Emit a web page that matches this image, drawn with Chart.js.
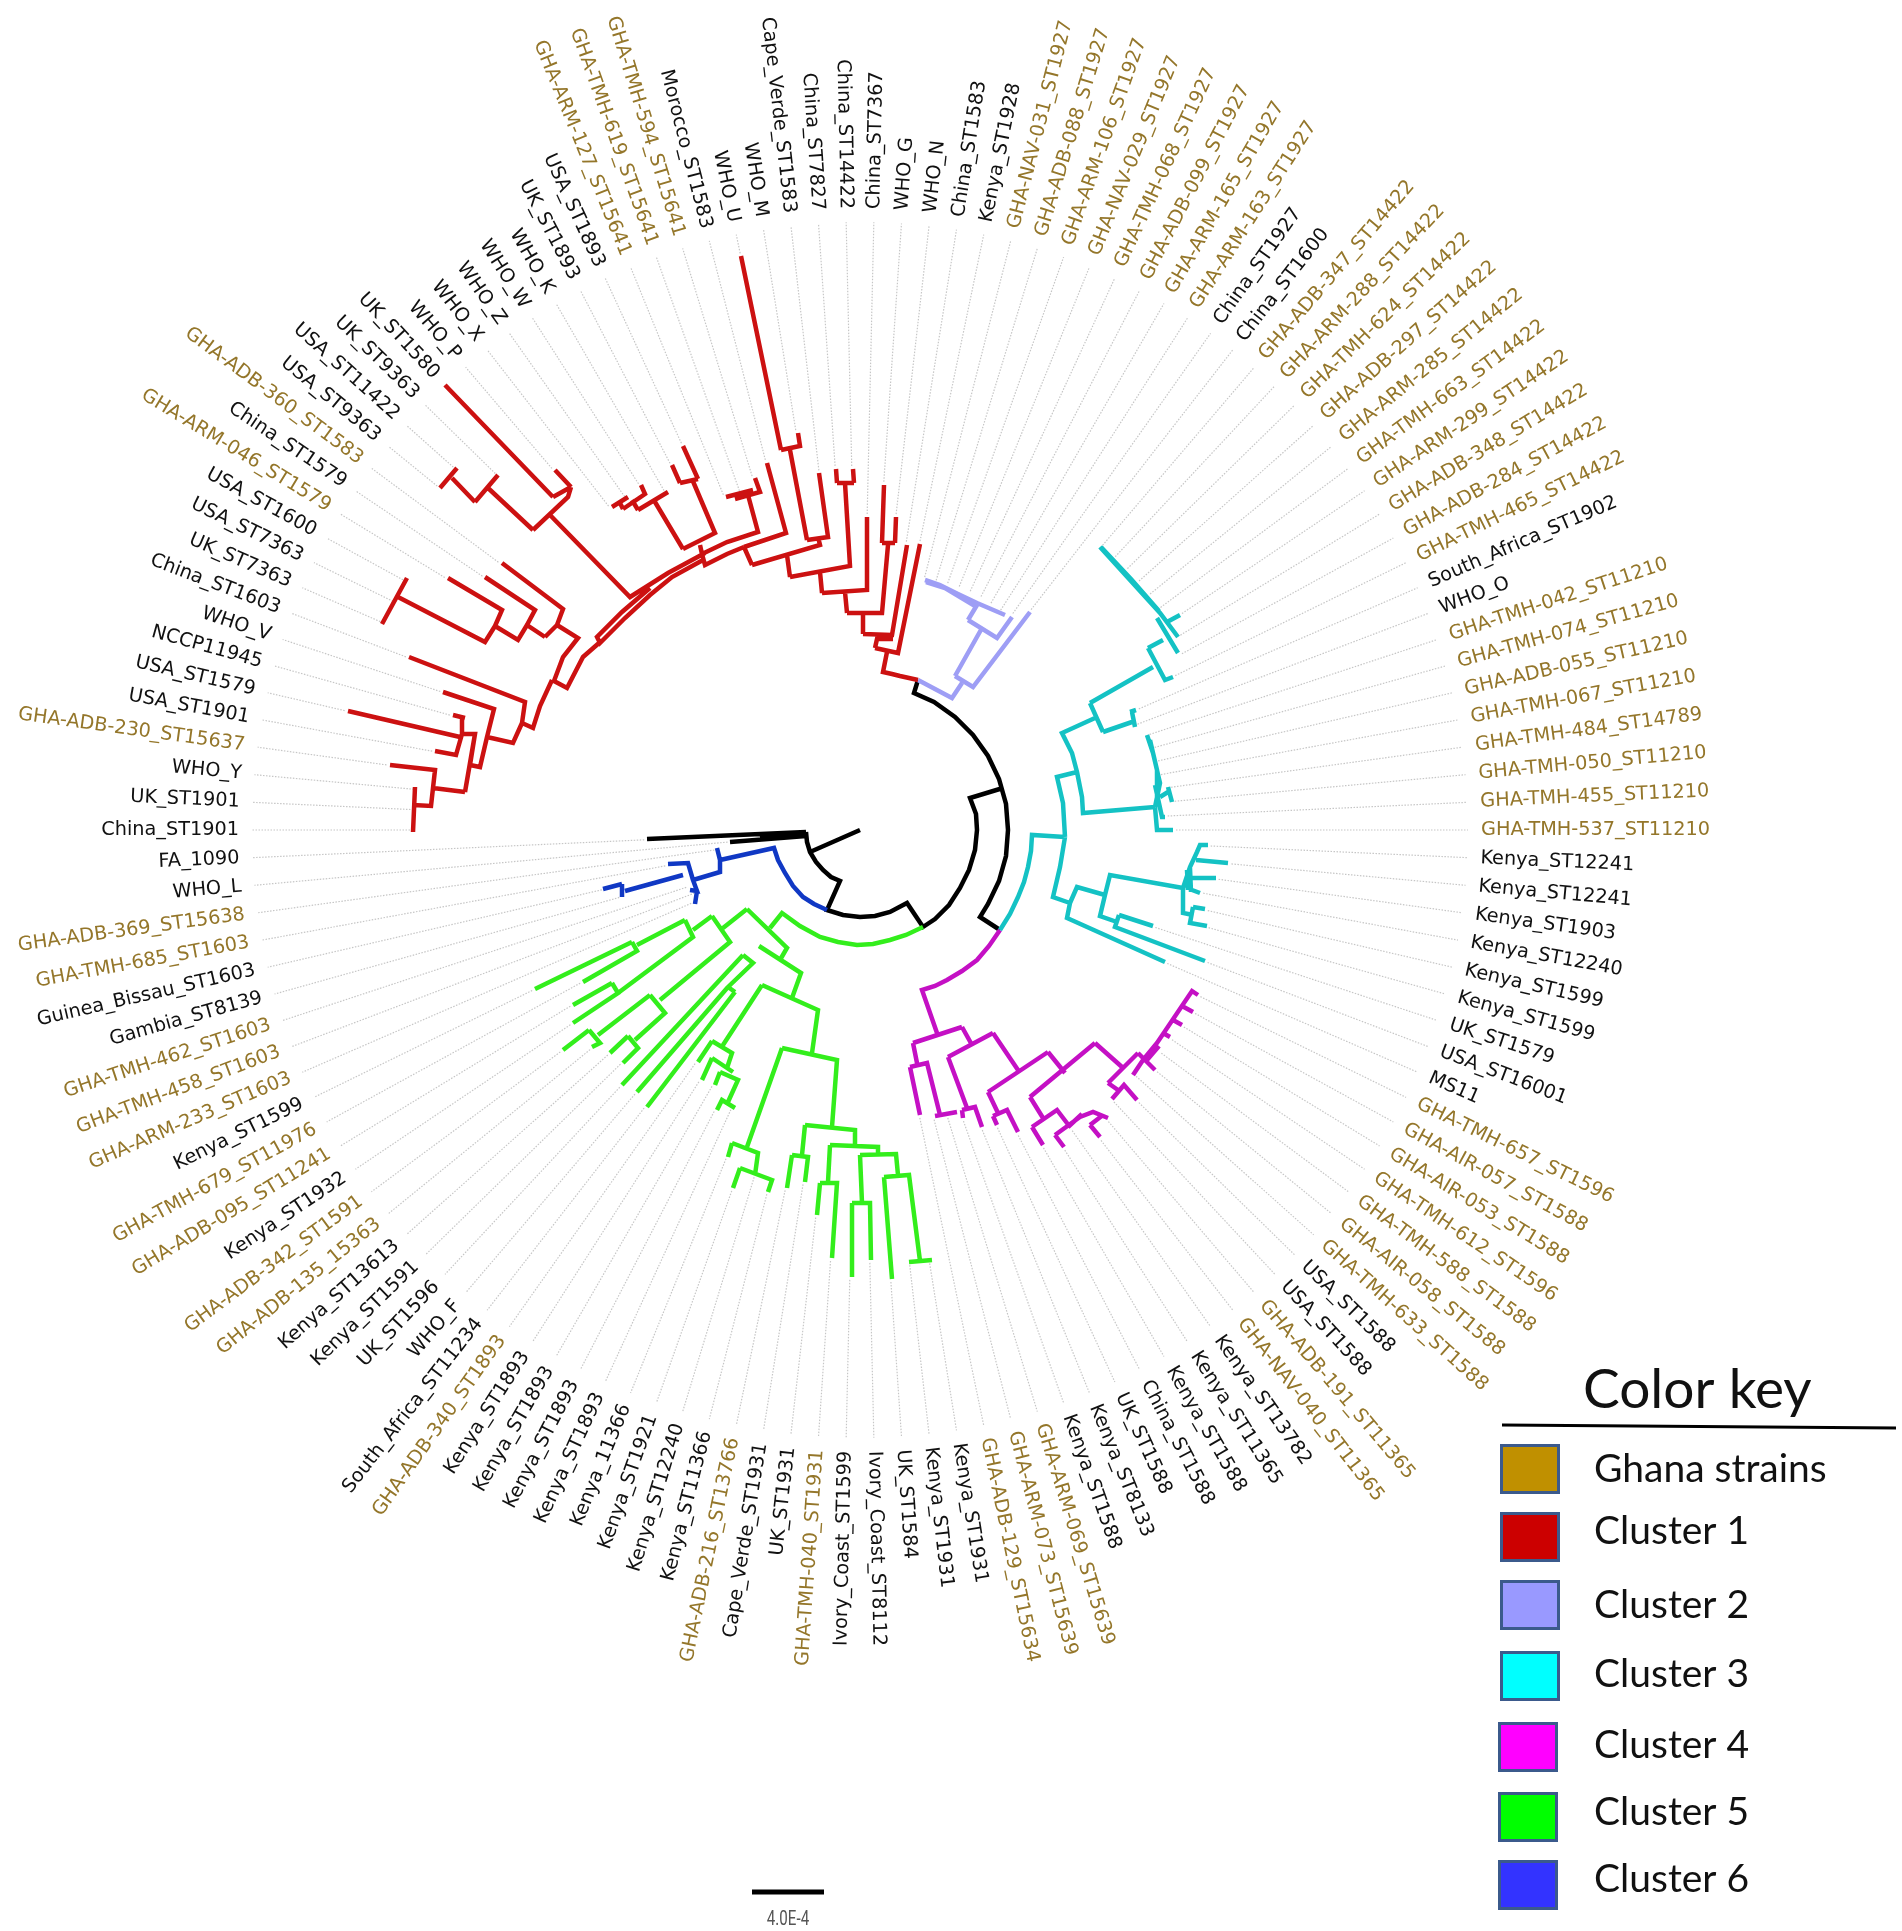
<!DOCTYPE html>
<html><head><meta charset="utf-8">
<style>html,body{margin:0;padding:0;background:#fff}canvas{display:block}</style>
<script src="https://cdn.jsdelivr.net/npm/chart.js@4"></script>
</head><body><canvas id="c" width="1902" height="1931"></canvas>
<script>
const tipLabels=["FA_1090","China_ST1901","UK_ST1901","WHO_Y","GHA-ADB-230_ST15637","USA_ST1901","USA_ST1579","NCCP11945","WHO_V","China_ST1603","UK_ST7363","USA_ST7363","USA_ST1600","GHA-ARM-046_ST1579","China_ST1579","GHA-ADB-360_ST1583","USA_ST9363","USA_ST11422","UK_ST9363","UK_ST1580","WHO_P","WHO_X","WHO_Z","WHO_W","WHO_K","UK_ST1893","USA_ST1893","GHA-ARM-127_ST15641","GHA-TMH-619_ST15641","GHA-TMH-594_ST15641","Morocco_ST1583","WHO_U","WHO_M","Cape_Verde_ST1583","China_ST7827","China_ST14422","China_ST7367","WHO_G","WHO_N","China_ST1583","Kenya_ST1928","GHA-NAV-031_ST1927","GHA-ADB-088_ST1927","GHA-ARM-106_ST1927","GHA-NAV-029_ST1927","GHA-TMH-068_ST1927","GHA-ADB-099_ST1927","GHA-ARM-165_ST1927","GHA-ARM-163_ST1927","China_ST1927","China_ST1600","GHA-ADB-347_ST14422","GHA-ARM-288_ST14422","GHA-TMH-624_ST14422","GHA-ADB-297_ST14422","GHA-ARM-285_ST14422","GHA-TMH-663_ST14422","GHA-ARM-299_ST14422","GHA-ADB-348_ST14422","GHA-ADB-284_ST14422","GHA-TMH-465_ST14422","South_Africa_ST1902","WHO_O","GHA-TMH-042_ST11210","GHA-TMH-074_ST11210","GHA-ADB-055_ST11210","GHA-TMH-067_ST11210","GHA-TMH-484_ST14789","GHA-TMH-050_ST11210","GHA-TMH-455_ST11210","GHA-TMH-537_ST11210","Kenya_ST12241","Kenya_ST12241","Kenya_ST1903","Kenya_ST12240","Kenya_ST1599","Kenya_ST1599","UK_ST1579","USA_ST16001","MS11","GHA-TMH-657_ST1596","GHA-AIR-057_ST1588","GHA-AIR-053_ST1588","GHA-TMH-612_ST1596","GHA-TMH-588_ST1588","GHA-AIR-058_ST1588","GHA-TMH-633_ST1588","USA_ST1588","USA_ST1588","GHA-ADB-191_ST11365","GHA-NAV-040_ST11365","Kenya_ST13782","Kenya_ST11365","Kenya_ST1588","China_ST1588","UK_ST1588","Kenya_ST8133","Kenya_ST1588","GHA-ARM-069_ST15639","GHA-ARM-073_ST15639","GHA-ADB-129_ST15634","Kenya_ST1931","Kenya_ST1931","UK_ST1584","Ivory_Coast_ST8112","Ivory_Coast_ST1599","GHA-TMH-040_ST1931","UK_ST1931","Cape_Verde_ST1931","GHA-ADB-216_ST13766","Kenya_ST11366","Kenya_ST12240","Kenya_ST1921","Kenya_11366","Kenya_ST1893","Kenya_ST1893","Kenya_ST1893","Kenya_ST1893","GHA-ADB-340_ST1893","South_Africa_ST11234","WHO_F","UK_ST1596","Kenya_ST1591","Kenya_ST13613","GHA-ADB-135_15363","GHA-ADB-342_ST1591","Kenya_ST1932","GHA-ADB-095_ST11241","GHA-TMH-679_ST11976","Kenya_ST1599","GHA-ARM-233_ST1603","GHA-TMH-458_ST1603","GHA-TMH-462_ST1603","Gambia_ST8139","Guinea_Bissau_ST1603","GHA-TMH-685_ST1603","GHA-ADB-369_ST15638","WHO_L"];
const tipRadius=[213,447,447,445,475,432,526,423,439,483,520,517,518,483,452,447,542,542,507,608,472,407,405,408,389,410,423,359,354,367,379,586,402,359,362,361,313,346,315,289,292,258,258,259,260,260,260,259,258,262,276,371,371,371,371,371,371,385,372,364,348,301,294,302,300,300,300,311,313,305,313,348,370,359,346,354,359,308,369,332,376,379,376,373,372,380,367,387,369,380,390,365,377,364,341,325,321,306,298,296,291,436,435,450,430,447,429,387,356,365,373,360,380,352,305,314,293,296,283,349,344,349,332,335,345,370,346,336,316,362,181,174,180,247,250,195,144,130];
const treeCentre=[860,830];
const rootBranches=[[918,680,914,693,934,702,955,717,973,735,988,756,999,779,1006,804,1008,830,1006,856,999,881,988,904,980,917,1000,930],[1003,788,970,798,976,814,977,830,975,850,969,870,960,888,949,905,935,919,923,927,907,903,890,912,875,916,860,917,843,915,827,910,840,881,831,877,823,870,816,862,810,852,807,842,806,832],[810,852,860,830],[806,832,647,839],[806,836,730,842],[806,834,760,838]];
const cluster1Branches=[[918,680,909,678,900,676,892,674,883,672,887,652],[875,648,898,653,920,544],[875,648,877,639,893,639],[863,634,892,635,907,545],[863,634,863,613],[847,613,882,613,888,545],[882,543,895,543],[884,485,882,543],[896,517,895,543],[847,613,845,592],[822,593,867,590,867,517],[822,593,820,572],[790,577,850,566,845,483],[837,483,854,483],[837,483,836,469],[854,483,853,469],[790,577,787,555],[752,565,820,545,818,537],[807,540,828,537,819,473],[807,540,790,450],[781,450,800,446,798,433],[781,450,741,256],[752,565,744,547],[744,547,786,533,767,463],[744,547,727,554,705,565,702,554],[702,554,727,542,758,532,748,495],[735,499,760,492,755,478],[726,497,753,490],[702,554,700,545],[683,549,715,533,692,479],[680,483,698,479],[680,483,672,465],[698,479,683,446],[683,549,655,502],[638,510,668,492],[638,510,632,500],[623,509,645,494,641,485],[623,509,620,503],[612,507,628,497],[705,553,668,573,630,597,550,515],[533,530,568,497,571,487],[553,497,571,487],[553,497,445,385],[555,470,571,487],[533,530,488,488],[475,502,498,475],[475,502,452,478],[440,488,457,468],[703,560,672,577,650,595,625,618,600,643,597,637,622,612,650,588],[599,643,583,657,567,688,554,681],[554,681,563,657,578,638,557,625],[557,625,545,637],[557,625,563,609,502,563],[545,637,527,625,535,610,485,577],[527,625,518,640,495,626],[495,626,502,610,448,578],[495,626,485,642,398,597],[382,624,407,578],[552,680,540,706,533,728,522,723],[522,723,525,702,409,657],[522,723,513,743,487,737],[487,737,494,709,443,692],[487,737,480,767,470,765],[470,765,475,734,460,734],[475,734,465,792],[433,788,465,792],[433,788,435,770,390,765],[433,788,431,806,413,805],[415,787,413,832],[348,711,460,737],[462,734,462,717],[453,715,465,718],[462,734,456,755,435,751]];
const cluster2Branches=[[918,680,952,698,962,683],[955,676,973,687,1030,612],[955,676,982,628],[968,620,997,638,1012,617],[968,620,977,605],[925,580,940,585,958,594,977,603,1005,615],[926,582,945,588,975,606]];
const cluster3Branches=[[1000,930,1010,914,1018,897,1024,882,1028,867,1031,851,1032,835,1065,837],[1065,837,1063,803,1057,777,1077,772],[1077,772,1072,753,1062,733,1095,718],[1077,772,1082,797,1083,813,1155,807],[1155,807,1160,783,1153,753,1147,735],[1157,800,1157,770,1150,740],[1155,785,1162,817,1165,817],[1155,807,1157,830,1173,830],[1160,797,1168,792],[1172,802,1168,787],[1090,703,1103,732],[1090,703,1153,667],[1148,648,1165,680,1173,677],[1148,648,1163,640],[1100,547,1130,580,1160,613,1178,637],[1101,547,1131,579,1159,611],[1157,618,1178,653],[1167,622,1180,615],[1103,732,1132,722],[1130,712,1136,710],[1132,712,1135,727],[1065,837,1060,867,1053,897,1070,903],[1070,903,1077,887,1105,895],[1070,903,1067,918,1165,962],[1105,895,1110,875,1183,888],[1105,895,1100,916,1117,922],[1119,915,1153,926],[1119,915,1115,927,1205,961],[1183,888,1190,867,1197,852,1200,845,1208,845],[1196,860,1228,863],[1192,878,1216,878],[1192,890,1200,893],[1183,888,1183,913,1193,915],[1193,907,1205,909],[1193,907,1190,923,1207,926],[1190,868,1191,892],[1187,870,1188,890]];
const cluster4Branches=[[1000,930,989,946,977,960,962,971,947,980,935,986,922,990,937,1033],[913,1043,962,1027],[913,1043,917,1063],[910,1067,927,1063,940,1115],[910,1067,920,1115],[935,1116,957,1112],[962,1027,972,1045],[948,1057,993,1033],[948,1057,967,1108],[962,1110,975,1107,982,1127],[962,1110,963,1118],[993,1033,1020,1073],[988,1092,1048,1052],[988,1092,998,1113],[993,1116,1007,1110,1018,1132],[993,1116,997,1125],[1048,1052,1065,1073],[1030,1097,1095,1043],[1030,1097,1043,1118],[1032,1127,1057,1110,1070,1127],[1032,1127,1043,1145],[1055,1135,1080,1117,1093,1112,1108,1118],[1068,1127,1082,1114],[1055,1135,1064,1147],[1090,1125,1100,1137],[1090,1125,1103,1115],[1095,1043,1122,1067],[1108,1083,1138,1053],[1108,1083,1118,1090],[1112,1099,1124,1085,1137,1100],[1138,1053,1155,1070],[1133,1075,1143,1060],[1143,1060,1157,1043,1192,991,1198,995],[1147,1060,1159,1046],[1182,1006,1193,1012],[1173,1020,1182,1025],[1163,1033,1170,1037]];
const cluster5Branches=[[923,927,906,935,890,940,873,944,857,945,838,942,820,937,800,926,782,913,770,928],[747,909,787,948,780,960],[759,946,801,973,792,998],[762,985,818,1010,812,1053],[782,1048,837,1060,832,1127],[805,1125,855,1130,855,1145],[805,1125,802,1155],[792,1155,808,1157,805,1182],[792,1155,787,1188],[830,1145,878,1147,878,1154],[830,1145,828,1182],[820,1183,837,1183,832,1258],[820,1183,817,1215],[860,1155,896,1154,898,1175],[860,1155,862,1203],[852,1203,870,1203,871,1260],[852,1203,852,1277],[884,1177,909,1175,920,1261],[884,1177,892,1279],[909,1262,932,1260],[782,1048,747,1147],[732,1143,758,1153,755,1175],[732,1143,728,1157],[740,1168,772,1180,768,1192],[740,1168,733,1188],[762,985,723,1045],[712,1041,732,1053,727,1068],[712,1041,698,1062],[712,1058,733,1072],[712,1058,702,1080],[720,1072,738,1080,728,1102],[720,1072,715,1085],[717,1110,722,1100,735,1108],[743,955,753,963,728,987],[743,955,622,1085],[728,987,637,1092],[735,992,647,1107],[728,987,735,992],[747,909,723,928],[712,916,730,942,660,1000],[650,995,665,1013,635,1040],[650,995,598,1035],[589,1030,600,1043,592,1047],[589,1030,563,1050],[628,1036,638,1048,623,1063],[628,1036,610,1053],[712,916,693,930],[685,920,693,937,618,993],[685,920,637,945],[632,942,637,951,583,982],[632,942,535,989],[612,983,618,993,573,1023],[612,983,573,1005]];
const cluster6Branches=[[827,910,814,904,803,897,793,886,785,873,778,860,774,848,720,860,717,848],[720,860,720,872,693,880],[668,864,688,863,693,880],[693,880,697,891,690,890],[697,891,695,904],[683,875,625,891],[622,897,622,884],[603,889,622,884]];
const scaleBar=[[752,1892,824,1892]];
const scaleLabel="4.0E-4";
const legendTitle="Color key";
const legendNames=["Ghana strains","Cluster 1","Cluster 2","Cluster 3","Cluster 4","Cluster 5","Cluster 6"];
const legendColours=["#c09000","#cc0000","#9999ff","#00ffff","#ff00ff","#00ff00","#3333ff"];
const legendSwatchTop=[1444,1512,1580,1651,1722,1792,1860];
const legendSwatchLeft=[1500,1500,1500,1500,1498,1498,1498];
const legendBaseline=[1482,1544,1618,1687,1758,1825,1892];

const STEP=360/tipLabels.length;
const alpha=i=>(70-i)*STEP*Math.PI/180;
const polar=(i,r)=>({x:treeCentre[0]+r*Math.cos(alpha(i)),y:treeCentre[1]-r*Math.sin(alpha(i))});
function pts(list){const o=[];for(const l of list){for(let k=0;k<l.length;k+=2)o.push({x:l[k],y:l[k+1]});o.push({x:null,y:null});}return o;}
function leaders(){const o=[];tipRadius.forEach((r,i)=>{if(r<604){o.push(polar(i,r+3));o.push(polar(i,608));o.push({x:null,y:null});}});return o;}
const ds=(label,list,color,w,order)=>({label,data:pts(list),borderColor:color,borderWidth:w,showLine:true,pointRadius:0,pointHoverRadius:0,fill:false,tension:0,order,borderJoinStyle:'miter',borderCapStyle:'butt',spanGaps:false});

const textPlugin={id:'tree-text',afterDraw(ch){
  const c=ch.ctx,X=ch.scales.x,Y=ch.scales.y;
  c.save();
  c.textBaseline='middle';
  c.font='19.3px "DejaVu Sans"';
  tipLabels.forEach((t,i)=>{
    const p=polar(i,621),a=alpha(i),px=X.getPixelForValue(p.x),py=Y.getPixelForValue(p.y);
    const left=Math.cos(a)<0;
    c.save();c.translate(px,py);c.rotate(left?Math.PI-a:-a);
    c.textAlign=left?'right':'left';
    c.fillStyle=t.startsWith('GHA')?'#94762a':'#111';
    c.fillText(t,0,0);c.restore();
  });
  // scale bar label: narrow face made by a horizontal squeeze
  c.save();
  c.fillStyle='#555';c.textAlign='center';c.textBaseline='alphabetic';
  c.font='21px Roboto';
  c.translate(X.getPixelForValue(788),Y.getPixelForValue(1925));c.scale(0.72,1);
  c.fillText(scaleLabel,0,0);
  c.restore();
  // legend
  c.fillStyle='#111';c.textAlign='left';c.textBaseline='alphabetic';
  c.font='55px Lato';
  c.fillText(legendTitle,X.getPixelForValue(1583),Y.getPixelForValue(1408));
  c.strokeStyle='#000';c.lineWidth=3;c.beginPath();
  c.moveTo(X.getPixelForValue(1502),Y.getPixelForValue(1425));c.lineTo(X.getPixelForValue(1896),Y.getPixelForValue(1428));c.stroke();
  legendNames.forEach((n,i)=>{
    const l=X.getPixelForValue(legendSwatchLeft[i]),t=Y.getPixelForValue(legendSwatchTop[i]);
    c.fillStyle=legendColours[i];c.fillRect(l,t,60,50);
    c.strokeStyle='#3b5a8c';c.lineWidth=3;c.strokeRect(l+1.5,t+1.5,57,47);
    c.fillStyle='#111';c.font='39px Lato';
    c.fillText(n,X.getPixelForValue(1594),Y.getPixelForValue(legendBaseline[i]));
  });
  c.restore();
}};

new Chart(document.getElementById('c'),{type:'scatter',
 data:{datasets:[
  {label:'leaders',data:leaders(),borderColor:'#c6c6c6',borderWidth:1.2,borderDash:[1.5,1.5],showLine:true,pointRadius:0,fill:false,order:9,spanGaps:false},
  ds('Root',rootBranches,'#000',4.5,5),
  ds('Cluster 1',cluster1Branches,'#cc1111',4.5,4),
  ds('Cluster 2',cluster2Branches,'#9e9ef5',4.5,4),
  ds('Cluster 3',cluster3Branches,'#14c2c4',4.5,4),
  ds('Cluster 4',cluster4Branches,'#c410c4',4.5,4),
  ds('Cluster 5',cluster5Branches,'#33ee1c',4.5,4),
  ds('Cluster 6',cluster6Branches,'#1038c4',4.5,4),
  ds('Scale',scaleBar,'#000',5,4)
 ]},
 options:{responsive:false,animation:false,devicePixelRatio:1,
  layout:{padding:0},
  plugins:{legend:{display:false},tooltip:{enabled:false},title:{display:false}},
  scales:{x:{type:'linear',min:0,max:1902,display:false},y:{type:'linear',min:0,max:1931,reverse:true,display:false}}},
 plugins:[textPlugin]});
</script></body></html>
